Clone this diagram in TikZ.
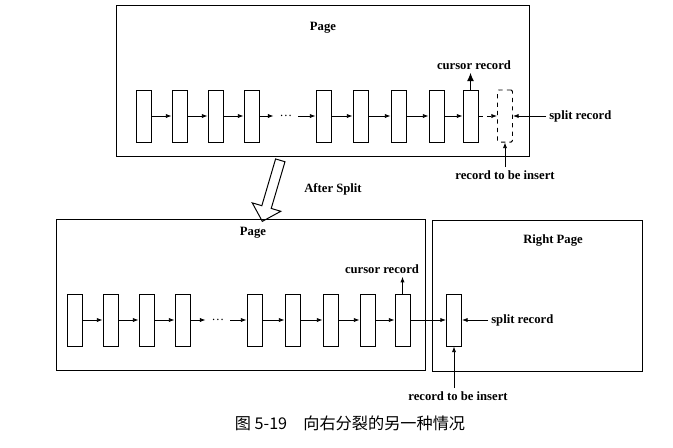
\documentclass[tikz,border=0pt]{standalone}
\usepackage{fontspec}
\setmainfont{Liberation Serif}
\newfontfamily\cjk{Noto Sans CJK SC}
\usetikzlibrary{arrows.meta,shapes.arrows}

\begin{document}
\begin{tikzpicture}[x=0.025cm, y=-0.025cm, line width=0.7pt,
    page/.style={draw, minimum height=3.75cm},
    rec/.style={draw, minimum width=0.375cm, minimum height=1.3cm, inner sep=0pt},
    lbl/.style={font=\bfseries\fontsize{9}{10}\selectfont, inner sep=2pt},
    link/.style={-{Latex[length=4pt,width=3pt]}, line width=0.6pt}]
    \useasboundingbox (0,0) rectangle (673,448);

    % before the split
    \node[page, minimum width=10.3cm] (pg) at (323,81) {};
    \node[lbl] (pgt) at (323,28) {Page};

    \node[rec] (a1) at (143.5,116) {};
    \node[rec] (a2) at (179.5,116) {};
    \node[rec] (a3) at (215.5,116) {};
    \node[rec] (a4) at (251.5,116) {};
    \node[inner sep=4pt, font=\small] (adots) at (286,116) {\dots};
    \node[rec] (a5) at (323.5,116) {};
    \node[rec] (a6) at (360.5,116) {};
    \node[rec] (a7) at (398.5,116) {};
    \node[rec] (a8) at (436.5,116) {};
    \node[rec] (a9) at (470.5,116) {};
    \node[rec, dashed, rounded corners=1pt] (ains) at (505,116) {};

    \draw[link] (a1) -- (a2);
    \draw[link] (a2) -- (a3);
    \draw[link] (a3) -- (a4);
    \draw[link] (a4) -- (adots);
    \draw[link] (adots) -- (a5);
    \draw[link] (a5) -- (a6);
    \draw[link] (a6) -- (a7);
    \draw[link] (a7) -- (a8);
    \draw[link] (a8) -- (a9);
    \draw[link, dashed] (a9) -- (ains);

    \node[lbl] (acur) at (474,65) {cursor record};
    \draw[-{Latex[length=6pt,width=5pt]}, line width=0.8pt] (a9.north) -- (a9.north |- acur.south);
    \node[lbl, anchor=west] (asplit) at (546,116) {split record};
    \draw[link] (asplit.west) -- (ains.east);
    \node[lbl] (anew) at (505,175) {record to be insert};
    \draw[link] (anew.north) -- (ains.south);

    % big hollow arrow
    \node[single arrow, draw, fill=white, rotate=-106.4, minimum height=1.59cm, minimum width=0.72cm,
          single arrow head extend=0.25cm, inner sep=0.11cm, line width=0.7pt] (down) at (272,188.5) {};
    \node[lbl] (after) at (333,189) {After Split};

    % after the split
    \node[page, minimum width=9.2cm] (lp) at (241,295) {};
    \node[lbl] (lpt) at (253,233) {Page};
    \node[page, minimum width=5.225cm] (rp) at (537.5,296) {};
    \node[lbl] (rpt) at (553,241) {Right Page};

    \node[rec] (b1) at (74.5,320) {};
    \node[rec] (b2) at (110.5,320) {};
    \node[rec] (b3) at (146.5,320) {};
    \node[rec] (b4) at (182.5,320) {};
    \node[inner sep=4pt, font=\small] (bdots) at (218,320) {\dots};
    \node[rec] (b5) at (254.5,320) {};
    \node[rec] (b6) at (292.5,320) {};
    \node[rec] (b7) at (330.5,320) {};
    \node[rec] (b8) at (367.5,320) {};
    \node[rec] (b9) at (402.5,320) {};
    \node[rec] (bins) at (454,320) {};

    \draw[link] (b1) -- (b2);
    \draw[link] (b2) -- (b3);
    \draw[link] (b3) -- (b4);
    \draw[link] (b4) -- (bdots);
    \draw[link] (bdots) -- (b5);
    \draw[link] (b5) -- (b6);
    \draw[link] (b6) -- (b7);
    \draw[link] (b7) -- (b8);
    \draw[link] (b8) -- (b9);
    \draw[link] (b9) -- (bins);

    \node[lbl] (bcur) at (382,269) {cursor record};
    \draw[link] (b9.north) -- (b9.north |- bcur.south);
    \node[lbl, anchor=west] (bsplit) at (488,320) {split record};
    \draw[link] (bsplit.west) -- (bins.east);
    \node[lbl] (bnew) at (458,396) {record to be insert};
    \draw[link] (bnew.north -| bins.south) -- (bins.south);

    \node[font=\cjk\fontsize{11.5}{14}\selectfont] (cap) at (350,423) {图 5-19\quad 向右分裂的另一种情况};
\end{tikzpicture}
\end{document}
